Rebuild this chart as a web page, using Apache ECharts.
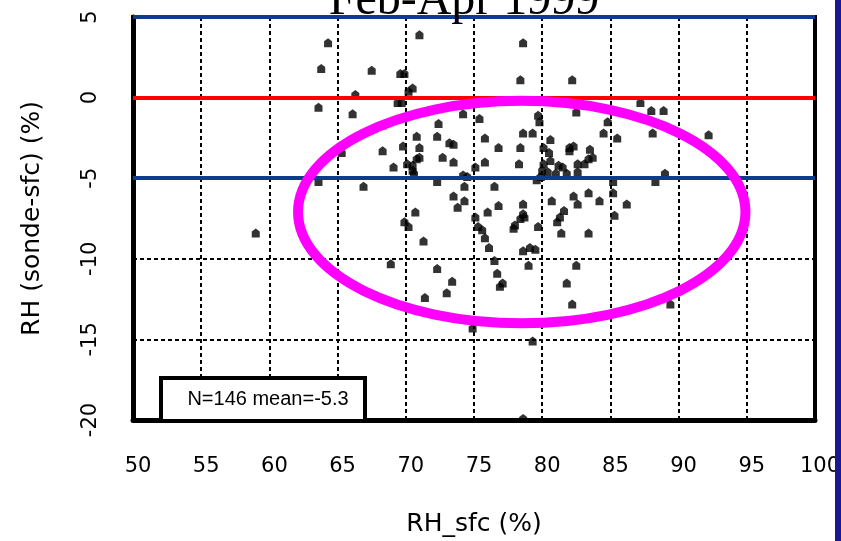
<!DOCTYPE html>
<html>
<head>
<meta charset="utf-8">
<script src="https://cdn.jsdelivr.net/npm/echarts@6/dist/echarts.min.js"></script>
<style>
  html, body { margin: 0; padding: 0; background: #fff; }
  #chart { width: 841px; height: 541px; }
</style>
</head>
<body>
<div id="chart"></div>
<script>
// Surface relative humidity (%) for each sounding
const rhSfc = [
  64.3, 63.8, 67.5, 69.6, 69.9, 71.0, 70.5, 70.2, 66.3, 63.6,
  69.4, 69.7, 66.1, 68.3, 74.2, 75.4, 72.4, 70.8, 72.3, 73.2,
  73.5, 69.8, 71.0, 68.3, 65.3, 75.8, 76.8, 78.6, 78.4, 82.2,
  87.2, 88.0, 88.9, 79.7, 79.8, 82.5, 84.8, 78.6, 79.3, 84.5,
  85.5, 88.1, 92.2, 78.4, 82.0, 82.3, 83.5,
  80.1, 80.6, 80.5, 80.6, 80.1, 80.0, 80.4, 81.0, 79.9, 79.6,
  69.1, 70.1, 70.5, 70.5, 70.8, 71.0, 70.6, 72.7, 73.5, 74.2,
  74.5, 75.1, 75.8, 63.6, 66.9, 72.3, 74.3, 73.5, 74.3, 73.8,
  70.7, 69.9, 70.2, 75.1, 75.3, 75.6, 75.8, 76.1, 76.5, 76.7,
  59.0, 71.3, 68.9, 72.3, 73.4, 73.0, 71.4, 74.9, 76.5, 76.0,
  76.8, 78.3,
  82.0, 81.2, 81.5, 81.8, 82.6, 83.1, 83.4, 83.7, 82.6, 85.2,
  85.2, 86.2, 85.3, 84.2, 88.3, 89.0,
  78.6, 80.7, 82.3, 82.6, 83.4, 81.6, 81.3, 81.1, 81.4, 83.4,
  78.6, 78.7, 78.4, 78.0, 77.9, 79.7, 78.6, 79.1, 79.5, 79.0,
  82.5, 77.1, 76.9, 81.8, 82.2, 89.4, 79.3, 78.6
];
// Sonde minus surface relative humidity (%) for the same soundings
const rhDiff = [
   3.4,  1.8,  1.7,  1.5,  1.5,  3.9,  0.6,  0.4,  0.2, -0.6,
  -0.3, -0.3, -1.0, -1.7, -1.0, -1.3, -1.6, -2.4, -2.4, -2.8,
  -2.9, -3.0, -3.1, -3.3, -3.4, -2.5, -3.1,  3.4,  1.1,  1.1,
  -0.3, -0.8, -0.8, -1.1, -1.5, -0.9, -1.5, -2.2, -2.2, -2.2,
  -2.5, -2.2, -2.3, -3.1, -3.1, -3.0, -3.2,
  -3.1, -2.6, -3.4, -3.9, -4.1, -4.5, -4.6, -4.7, -4.9, -5.1,
  -4.3, -4.1, -4.2, -4.5, -3.8, -3.7, -4.7, -3.7, -4.0, -4.8,
  -4.9, -4.3, -4.0, -5.2, -5.5, -5.2, -5.5, -6.1, -6.4, -6.8,
  -7.1, -7.7, -8.0, -7.4, -8.0, -8.2, -8.7, -9.3, -10.1, -10.9,
  -8.4, -8.9, -10.3, -10.6, -11.4, -12.1, -12.4, -14.3, -5.5, -7.1,
  -6.7, -4.1,
  -3.3, -4.2, -4.3, -4.7, -4.1, -4.1, -3.8, -3.7, -4.6, -5.2,
  -5.9, -6.6, -7.3, -6.4, -5.2, -4.7,
  -6.6, -6.4, -6.1, -6.6, -5.9, -7.0, -7.4, -7.7, -8.4, -8.4,
  -7.2, -7.4, -7.5, -7.9, -8.1, -8.0, -9.5, -9.3, -9.4, -10.4,
  -10.4, -11.5, -11.7, -11.5, -12.8, -12.8, -15.1, -19.9
];

// Axis ranges and tick step
const xRange = [50, 100];
const yRange = [-20, 5];
const tickStep = 5;

// Reference levels drawn across the plot
const blueLevels = [5, -5];
const redLevels = [0];

// Texts
const titleText = 'Feb-Apr 1999';
const xName = 'RH_sfc (%)';
const yName = 'RH (sonde-sfc) (%)';
const summaryText = 'N=146 mean=-5.3';

// Highlight ellipse around the main cluster, in data units
const ellipseCenter = [78.5, -7.1];
const ellipseRadii = [16.4, 6.9];

const points = rhSfc.map((x, i) => [x, rhDiff[i]]);

const chart = echarts.init(document.getElementById('chart'), null, { renderer: 'canvas' });

const sansFont = 'DejaVu Sans';
const dashed = { color: '#000', width: 2, type: [4, 3] };

const option = {
  animation: false,
  backgroundColor: '#fff',
  grid: {
    left: 133, right: 26, top: 17, bottom: 121,
    outerBoundsMode: 'none',
    containLabel: false,
    show: true, borderColor: '#000', borderWidth: 4, backgroundColor: 'transparent'
  },
  xAxis: {
    type: 'value',
    min: xRange[0], max: xRange[1], interval: tickStep,
    name: xName, nameLocation: 'middle', nameGap: 92,
    nameTextStyle: { fontFamily: sansFont, fontSize: 25, color: '#000' },
    axisLine: { show: true, onZero: false, lineStyle: { color: '#000', width: 5 } },
    axisTick: { show: false },
    axisLabel: { margin: 36, fontFamily: sansFont, fontSize: 21, color: '#000', padding: [0, 0, 0, 10] },
    splitLine: { show: true, lineStyle: dashed }
  },
  yAxis: {
    type: 'value',
    min: yRange[0], max: yRange[1], interval: tickStep,
    name: yName, nameLocation: 'middle', nameGap: 88, nameRotate: 90,
    nameTextStyle: { fontFamily: sansFont, fontSize: 25, color: '#000' },
    axisLine: { show: true, onZero: false, lineStyle: { color: '#000', width: 5 } },
    axisTick: { show: false },
    axisLabel: { rotate: 90, margin: 32, fontFamily: sansFont, fontSize: 21, color: '#000' },
    splitLine: { show: true, lineStyle: dashed }
  },
  series: [
    {
      type: 'line',
      data: [],
      z: 2,
      silent: true,
      markLine: {
        silent: true,
        symbol: ['none', 'none'],
        label: { show: false },
        data: blueLevels.map(v => ({ yAxis: v, lineStyle: { color: '#0b3d8c', width: 4, type: 'solid' } }))
          .concat(redLevels.map(v => ({ yAxis: v, lineStyle: { color: '#ff0000', width: 4, type: 'solid' } })))
      }
    },
    {
      type: 'scatter',
      data: points,
      z: 4,
      symbol: 'path://M0,3L4,0L8,3L8,9L0,9Z',
      symbolSize: [8, 9],
      itemStyle: { color: '#000' },
      clip: false
    }
  ]
};

chart.setOption(option);

// Overlay: title, summary box, highlight ellipse and the side bar
const c = chart.convertToPixel({ gridIndex: 0 }, ellipseCenter);
const ex = chart.convertToPixel({ gridIndex: 0 }, [ellipseCenter[0] + ellipseRadii[0], ellipseCenter[1]]);
const ey = chart.convertToPixel({ gridIndex: 0 }, [ellipseCenter[0], ellipseCenter[1] + ellipseRadii[1]]);

chart.setOption({
  graphic: [
    {
      type: 'text', x: 464, y: 25, z: 20,
      style: {
        text: titleText, fill: '#000',
        font: '48px "Liberation Serif", "DejaVu Serif", serif',
        textAlign: 'center', textVerticalAlign: 'bottom'
      }
    },
    {
      type: 'rect', z: 10,
      shape: { x: 161, y: 378, width: 204, height: 43 },
      style: { fill: '#fff', stroke: '#000', lineWidth: 4 }
    },
    {
      type: 'text', x: 268, y: 399, z: 11,
      style: {
        text: summaryText, fill: '#000',
        font: '20px "Liberation Sans", sans-serif',
        textAlign: 'center', textVerticalAlign: 'middle'
      }
    },
    {
      type: 'ellipse', z: 30, silent: true,
      shape: { cx: c[0], cy: c[1], rx: Math.abs(ex[0] - c[0]), ry: Math.abs(c[1] - ey[1]) },
      style: { fill: 'none', stroke: '#ff00ff', lineWidth: 10 }
    },
    {
      type: 'rect', z: 40,
      shape: { x: 835, y: 0, width: 6, height: 541 },
      style: { fill: '#17198e' }
    }
  ]
});
</script>
</body>
</html>
